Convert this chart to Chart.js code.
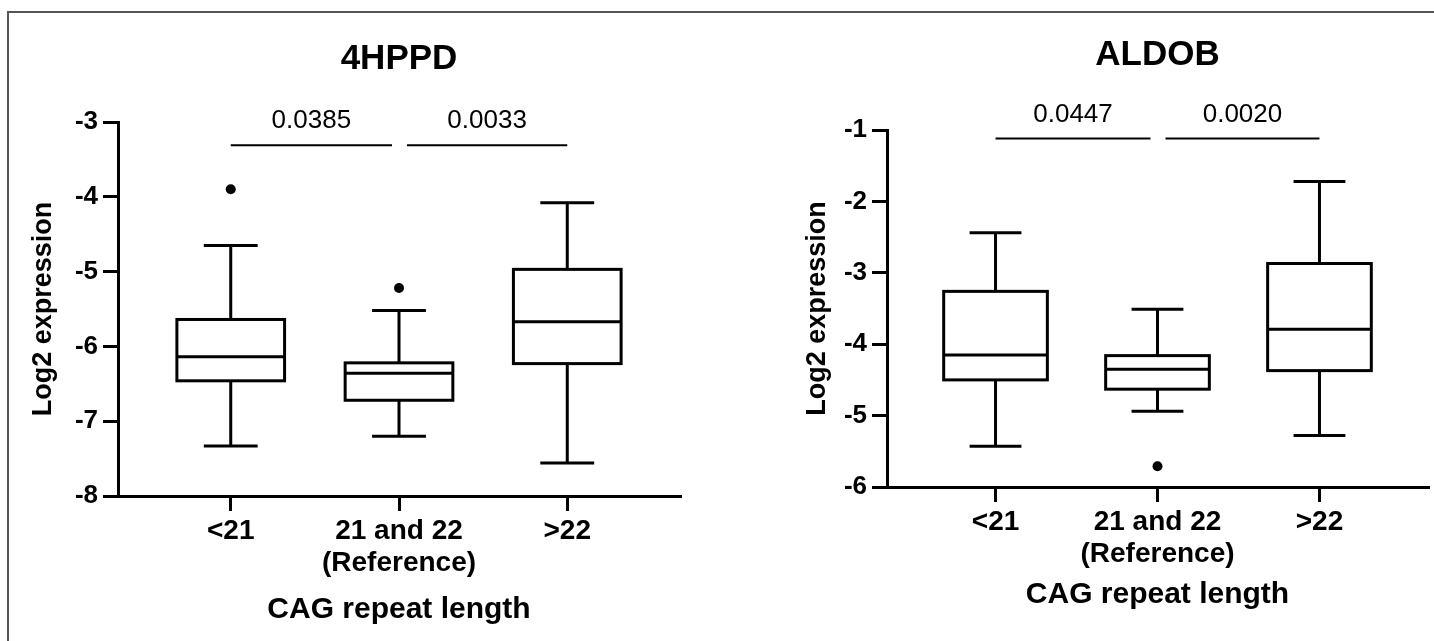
<!DOCTYPE html>
<html>
<head>
<meta charset="utf-8">
<script src="https://cdn.jsdelivr.net/npm/chart.js@4"></script>
<style>
  body { margin: 0; background: #fff; }
  #wrap { position: relative; width: 1434px; height: 641px; overflow: hidden; background: #fff; }
  #wrap canvas { position: absolute; top: 0; }
  #frame { position: absolute; left: 7px; top: 11px; right: -5px; bottom: -5px;
           border-top: 2px solid #555; border-left: 2px solid #555; pointer-events: none; }
</style>
</head>
<body>
<div id="wrap">
  <canvas id="left" width="717" height="641" style="left:0"></canvas>
  <canvas id="right" width="717" height="641" style="left:717px"></canvas>
  <div id="frame"></div>
</div>
<script>
// groups along the x axis
var xLabels = ['<21', ['21 and 22', '(Reference)'], '>22'];

// 4HPPD box plot values (log2 expression)
var hppdLow    = [-7.33, -7.20, -7.56];
var hppdQ1     = [-6.46, -6.72, -6.23];
var hppdMedian = [-6.14, -6.36, -5.67];
var hppdQ3     = [-5.64, -6.22, -4.97];
var hppdHigh   = [-4.65, -5.52, -4.08];
var hppdOutliers = [{x: 0, y: -3.90}, {x: 1, y: -5.22}];
var hppdPvalues = ['0.0385', '0.0033'];
var hppdBracket = -3.31;

// ALDOB box plot values
var aldobLow    = [-5.43, -4.94, -5.28];
var aldobQ1     = [-4.50, -4.63, -4.37];
var aldobMedian = [-4.15, -4.35, -3.79];
var aldobQ3     = [-3.26, -4.16, -2.87];
var aldobHigh   = [-2.44, -3.51, -1.72];
var aldobOutliers = [{x: 1, y: -5.71}];
var aldobPvalues = ['0.0447', '0.0020'];
var aldobBracket = -1.12;

// comparisons against the reference group (index 1)
var comparisons = [[0, 1], [1, 2]];
var refGroup = 1;

Chart.defaults.font.family = "'Liberation Sans', Arial, Helvetica, sans-serif";
Chart.defaults.color = '#000';

var boxHalf = 0.32, capHalf = 0.16;

var boxPlugin = {
  id: 'boxes',
  beforeDatasetsDraw: function (chart, args, opts) {
    var ctx = chart.ctx, x = chart.scales.x, y = chart.scales.y;
    ctx.save();
    ctx.strokeStyle = '#000';
    ctx.lineWidth = 3;
    opts.median.forEach(function (m, i) {
      var cx = x.getPixelForValue(i);
      var bl = x.getPixelForValue(i - boxHalf), br = x.getPixelForValue(i + boxHalf);
      var cl = x.getPixelForValue(i - capHalf), cr = x.getPixelForValue(i + capHalf);
      var yLow = y.getPixelForValue(opts.low[i]), yHigh = y.getPixelForValue(opts.high[i]);
      var yQ1 = y.getPixelForValue(opts.q1[i]), yQ3 = y.getPixelForValue(opts.q3[i]);
      var yMed = y.getPixelForValue(m);
      ctx.beginPath();
      ctx.moveTo(cx, yLow); ctx.lineTo(cx, yQ1);
      ctx.moveTo(cx, yQ3); ctx.lineTo(cx, yHigh);
      ctx.moveTo(cl, yLow); ctx.lineTo(cr, yLow);
      ctx.moveTo(cl, yHigh); ctx.lineTo(cr, yHigh);
      ctx.stroke();
      ctx.fillStyle = '#fff';
      ctx.fillRect(bl, yQ3, br - bl, yQ1 - yQ3);
      ctx.strokeRect(bl, yQ3, br - bl, yQ1 - yQ3);
      ctx.beginPath();
      ctx.moveTo(bl, yMed); ctx.lineTo(br, yMed);
      ctx.stroke();
    });
    // p-value brackets
    var by = y.getPixelForValue(opts.bracket);
    ctx.lineWidth = 2;
    ctx.fillStyle = '#000';
    ctx.font = "26px 'Liberation Sans', Arial, sans-serif";
    ctx.textAlign = 'center';
    ctx.textBaseline = 'middle';
    comparisons.forEach(function (c, k) {
      var x1 = x.getPixelForValue(c[0]), x2 = x.getPixelForValue(c[1]);
      if (c[0] === refGroup) x1 += 8;
      if (c[1] === refGroup) x2 -= 7;
      ctx.beginPath();
      ctx.moveTo(x1, by); ctx.lineTo(x2, by);
      ctx.stroke();
      ctx.fillText(opts.pvalues[k], (x1 + x2) / 2, by - 24);
    });
    ctx.restore();
  }
};

function makeChart(id, cfg) {
  return new Chart(document.getElementById(id), {
    type: 'scatter',
    data: {
      datasets: [{
        label: 'Outliers',
        data: cfg.outliers,
        pointRadius: 5,
        pointHoverRadius: 5,
        backgroundColor: '#000',
        borderWidth: 0
      }]
    },
    options: {
      responsive: false,
      animation: false,
      layout: { padding: cfg.padding },
      plugins: {
        legend: { display: false },
        tooltip: { enabled: false },
        title: {
          display: true,
          text: cfg.title,
          fullSize: false,
          color: '#000',
          font: { size: 35, weight: 'bold', lineHeight: 1.2 },
          padding: cfg.titlePad
        },
        boxes: cfg.stats
      },
      scales: {
        x: {
          type: 'linear',
          min: -0.67,
          max: 2.67,
          afterBuildTicks: function (scale) {
            scale.ticks = [0, 1, 2].map(function (v) { return {value: v}; });
          },
          afterFit: function (scale) { scale.height = cfg.xHeight; },
          ticks: {
            autoSkip: false,
            maxRotation: 0,
            padding: 4,
            font: { size: 28, weight: 'bold', lineHeight: 1.15 },
            callback: function (v) { return xLabels[v]; }
          },
          grid: { drawOnChartArea: false, tickLength: 15, color: '#000', lineWidth: 3 },
          border: { color: '#000', width: 3 },
          title: {
            display: true,
            text: 'CAG repeat length',
            font: { size: 30, weight: 'bold', lineHeight: 1.2 },
            padding: { top: 0, bottom: 0 }
          }
        },
        y: {
          min: cfg.yMin,
          max: cfg.yMax,
          afterFit: function (scale) { scale.width = cfg.yWidth; },
          ticks: {
            stepSize: 1,
            padding: 5,
            font: { size: 26, weight: 'bold' }
          },
          grid: { drawOnChartArea: false, tickLength: 15, color: '#000', lineWidth: 3 },
          border: { color: '#000', width: 3 },
          title: {
            display: true,
            text: 'Log2 expression',
            font: { size: 27, weight: 'bold', lineHeight: 1.2 },
            padding: { top: cfg.yTitlePad, bottom: 0 }
          }
        }
      }
    },
    plugins: [boxPlugin]
  });
}

makeChart('left', {
  title: '4HPPD',
  outliers: hppdOutliers,
  padding: { left: 10, right: 37, top: 0, bottom: 13 },
  titlePad: { top: 38, bottom: 42 },
  xHeight: 132,
  yWidth: 108,
  yTitlePad: 17,
  yMin: -8, yMax: -3,
  stats: { low: hppdLow, q1: hppdQ1, median: hppdMedian, q3: hppdQ3, high: hppdHigh,
           pvalues: hppdPvalues, bracket: hppdBracket }
});

makeChart('right', {
  title: 'ALDOB',
  outliers: aldobOutliers,
  padding: { left: 10, right: 6, top: 0, bottom: 28 },
  titlePad: { top: 34, bottom: 54 },
  xHeight: 126,
  yWidth: 160,
  yTitlePad: 74,
  yMin: -6, yMax: -1,
  stats: { low: aldobLow, q1: aldobQ1, median: aldobMedian, q3: aldobQ3, high: aldobHigh,
           pvalues: aldobPvalues, bracket: aldobBracket }
});
</script>
</body>
</html>
